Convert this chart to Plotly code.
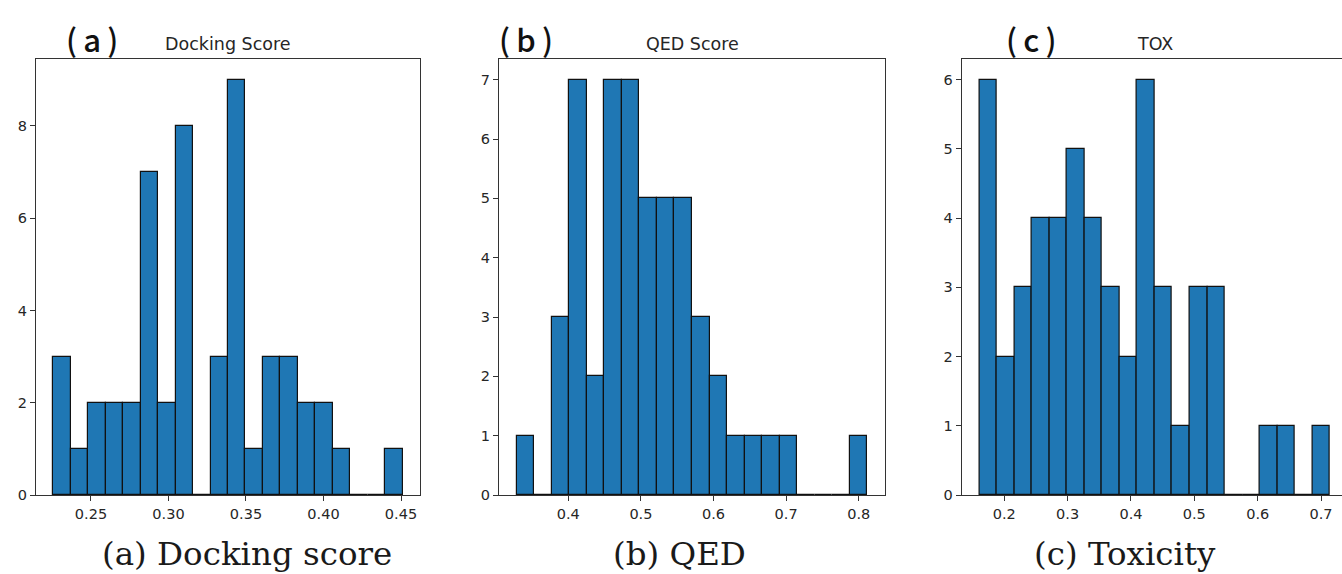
import numpy as np
import plotly.graph_objects as go

# ---- data (20-bin histograms) ----
dock_lo, dock_hi = 0.2258, 0.4510
dock_counts = [3, 1, 2, 2, 2, 7, 2, 8, 0, 3, 9, 1, 3, 3, 2, 2, 1, 0, 0, 1]

qed_lo, qed_hi = 0.3287, 0.8120
qed_counts = [1, 0, 3, 7, 2, 7, 7, 5, 5, 5, 3, 2, 1, 1, 1, 1, 0, 0, 0, 1]

tox_lo, tox_hi = 0.1606, 0.7142
tox_counts = [6, 2, 3, 4, 4, 5, 4, 3, 2, 6, 3, 1, 3, 3, 0, 0, 1, 1, 0, 1]

titles = ["Docking Score", "QED Score", "TOX"]
panel_tags = ["(\u2009a\u2009)", "(\u2009b\u2009)", "(\u2009c\u2009)"]
captions = ["(a) Docking score", "(b) QED", "(c) Toxicity"]

xtick_vals = [[0.25, 0.30, 0.35, 0.40, 0.45],
              [0.4, 0.5, 0.6, 0.7, 0.8],
              [0.2, 0.3, 0.4, 0.5, 0.6, 0.7]]
xtick_text = [["0.25", "0.30", "0.35", "0.40", "0.45"],
              ["0.4", "0.5", "0.6", "0.7", "0.8"],
              ["0.2", "0.3", "0.4", "0.5", "0.6", "0.7"]]
ytick_vals = [[0, 2, 4, 6, 8],
              [0, 1, 2, 3, 4, 5, 6, 7],
              [0, 1, 2, 3, 4, 5, 6]]

# ---- layout geometry (pixels) ----
SY = 582 / 574
W, H = 1342, 582
panel_px = [(36, 420), (499, 885), (961.7, 1347.6)]
top_px, bot_px = 59 * SY, 495 * SY
tag_x = [91.5, 525.5, 1031]
tag_y = 38 * SY
title_y = 44 * SY
cap_x = [247, 679, 1125]
cap_y = 554 * SY

series = [(dock_lo, dock_hi, dock_counts),
          (qed_lo, qed_hi, qed_counts),
          (tox_lo, tox_hi, tox_counts)]

fig = go.Figure()
annotations = []
LINE = "#333333"
TICKFONT = dict(family="DejaVu Sans", size=14.5, color="#262626")

for i, (lo, hi, counts) in enumerate(series):
    n = len(counts)
    edges = np.linspace(lo, hi, n + 1)
    centers = (edges[:-1] + edges[1:]) / 2
    bw = edges[1] - edges[0]
    xa = "x" if i == 0 else f"x{i+1}"
    ya = "y" if i == 0 else f"y{i+1}"
    fig.add_trace(go.Bar(
        x=centers, y=counts, width=bw,
        marker=dict(color="#1f77b4", line=dict(color="#111111", width=1.2)),
        xaxis=xa, yaxis=ya, showlegend=False, hoverinfo="x+y"))

    span = hi - lo
    r0, r1 = lo - 0.05 * span, hi + 0.05 * span
    L, R = panel_px[i]
    if R > W:
        r1 = r0 + (W - L) / (R - L) * (r1 - r0)
        R = W
    dom_x = [L / W, R / W]
    dom_y = [(H - bot_px) / H, (H - top_px) / H]
    ymax = max(counts) * 1.05

    key = "" if i == 0 else str(i + 1)
    fig.layout["xaxis" + key] = dict(
        domain=dom_x, range=[r0, r1], anchor=ya,
        showgrid=False, zeroline=False,
        showline=True, linecolor=LINE, linewidth=1.2, mirror=True,
        ticks="outside", ticklen=5, tickwidth=1.2, tickcolor=LINE,
        tickvals=xtick_vals[i], ticktext=xtick_text[i], tickfont=TICKFONT)
    fig.layout["yaxis" + key] = dict(
        domain=dom_y, range=[0, ymax], anchor=xa,
        showgrid=False, zeroline=False,
        showline=True, linecolor=LINE, linewidth=1.2, mirror=(i < 2),
        ticks="outside", ticklen=5, tickwidth=1.2, tickcolor=LINE,
        tickvals=ytick_vals[i], tickfont=TICKFONT)

    cx = (panel_px[i][0] + panel_px[i][1]) / 2
    annotations.append(dict(
        text=titles[i], x=cx / W, y=(H - title_y) / H, xref="paper", yref="paper",
        xanchor="center", yanchor="middle", showarrow=False,
        font=dict(family="DejaVu Sans", size=17.5, color="#262626")))
    annotations.append(dict(
        text=panel_tags[i], x=tag_x[i] / W, y=(H - tag_y) / H, xref="paper", yref="paper",
        xanchor="center", yanchor="middle", showarrow=False,
        font=dict(family="Noto Sans CJK KR", size=31, weight=500, color="#111111")))
    annotations.append(dict(
        text=captions[i], x=cap_x[i] / W, y=(H - cap_y) / H, xref="paper", yref="paper",
        xanchor="center", yanchor="middle", showarrow=False,
        font=dict(family="DejaVu Serif", size=32.5, color="#1a1a1a")))

fig.update_layout(
    width=W, height=H,
    margin=dict(l=0, r=0, t=0, b=0),
    paper_bgcolor="white", plot_bgcolor="white",
    bargap=0, annotations=annotations)

fig.write_html(
    "out.html",
    config={"displayModeBar": False},
    post_script="document.body.style.margin='0';document.body.style.overflow='hidden';")
